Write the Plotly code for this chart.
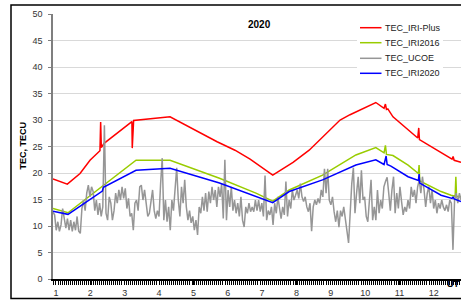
import numpy as np
import plotly.graph_objects as go

# ---------------- data ----------------
iri_plus_x = [0.913, 1.33, 1.70, 1.99, 2.28, 2.30, 2.32, 2.40, 3.21, 3.22, 3.26, 3.95, 4.32, 5.69, 6.21, 6.65,
              6.88, 7.31, 7.90, 8.37, 9.27, 9.56, 10.31, 10.55, 10.59, 10.62, 10.66, 10.81, 11.53, 11.56, 11.58,
              12.09, 12.47, 12.53, 12.56, 12.59, 12.79]
iri_plus = [18.9, 17.9, 19.9, 22.4, 24.2, 29.6, 24.8, 25.6, 29.7, 24.7, 29.9, 30.4, 30.6, 25.9, 24.3, 22.6,
            21.5, 19.6, 22.0, 24.3, 30.0, 31.0, 33.3, 32.2, 33.0, 32.0, 32.1, 30.6, 26.6, 28.5, 26.3,
            24.3, 22.8, 22.6, 23.1, 22.4, 22.0]

iri2016_x = [0.913, 1.35, 3.33, 4.32, 5.76, 6.82, 7.31, 7.79, 8.76, 9.73, 10.31, 10.55, 10.59, 10.62, 10.81,
             11.25, 11.55, 11.57, 11.59, 12.21, 12.50, 12.62, 12.64, 12.66, 12.79]
iri2016 = [13.3, 12.5, 22.4, 22.4, 19.0, 16.2, 14.7, 16.8, 19.6, 23.4, 24.8, 23.8, 25.2, 23.5, 23.3,
           21.5, 19.9, 21.5, 18.5, 16.5, 15.8, 15.6, 19.3, 15.6, 15.5]

iri2020_x = [0.913, 1.35, 2.35, 2.38, 3.33, 4.32, 5.76, 6.82, 7.31, 7.79, 8.76, 9.73, 10.31, 10.55, 10.61,
             10.64, 10.75, 11.25, 11.55, 11.57, 11.59, 12.21, 12.53, 12.56, 12.59, 12.79]
iri2020 = [12.8, 12.2, 16.6, 17.3, 20.5, 20.9, 18.1, 15.5, 14.4, 16.5, 18.7, 21.5, 22.5, 21.6, 23.2,
           21.6, 21.3, 19.3, 18.6, 19.8, 18.1, 15.8, 15.2, 15.5, 15.1, 14.6]

ucoe = [
    12.6, 12.1, 9.2, 10.8, 9.0, 10.2, 13.3, 11.8, 9.6, 11.4, 9.2, 11.1, 9.0, 10.8, 9.2, 11.8, 9.0, 8.6, 13.3, 14.9,
    12.9, 16.2, 17.7, 15.5, 17.4, 16.5, 12.9, 14.9, 12.1, 14.3, 11.8, 13.6, 29.0, 12.4, 11.1, 15.5, 14.3, 11.1,
    12.9, 16.2, 14.3, 16.8, 14.9, 17.4, 15.2, 17.1, 13.3, 15.2, 11.8, 12.4, 9.2, 14.3, 14.9, 12.9, 17.4, 17.7,
    14.9, 16.8, 14.0, 11.8, 12.4, 14.9,
    16.8, 12.9, 11.4, 12.9, 11.8, 18.0, 22.8, 11.1, 14.9, 10.8, 13.6, 9.2, 14.9, 12.9, 18.0, 21.0, 14.9, 11.8,
    17.4, 14.3, 18.7, 13.6, 11.1, 12.9, 10.6, 11.8, 9.2, 11.1, 8.3, 13.6, 12.4, 15.5, 12.9, 16.2, 12.7, 16.5,
    14.3, 17.4, 14.9, 16.8, 13.6, 17.4, 15.5, 18.0, 11.4, 22.5, 11.1, 16.8, 13.6, 17.4, 12.9, 14.9, 12.4, 14.3,
    11.8, 15.5, 11.1, 9.8, 13.6, 12.4, 14.3, 12.7, 13.6, 12.7, 14.9, 12.9,
    14.9, 12.7, 14.3, 11.8, 19.5, 11.1, 12.9, 12.1, 13.6, 10.2, 14.3, 12.4, 15.5, 12.9, 11.4, 13.6, 12.1, 18.4,
    11.8, 14.9, 13.3, 16.8, 14.9, 15.8, 16.8, 15.2, 18.0, 15.5, 14.6, 15.5, 13.6, 12.7, 14.3, 9.0, 13.6, 14.9,
    14.0, 15.2, 14.3, 16.8, 15.5, 20.8, 16.2, 20.8, 14.9, 14.0, 15.5, 12.7, 10.8, 12.9, 9.8, 12.9, 11.8, 13.6,
    11.1, 8.6, 6.8, 12.4, 18.0, 21.0, 12.4, 16.2, 19.3, 14.3,
    20.5, 14.9, 15.5, 11.8, 10.8, 14.9, 18.7, 11.1, 13.6, 11.1, 16.8, 12.4, 14.9, 13.3, 17.4, 18.4, 19.2, 16.2,
    12.9, 16.8, 19.3, 12.4, 16.2, 13.3, 17.4, 14.6, 12.1, 13.6, 12.7, 14.9, 13.3, 17.4, 15.5, 16.8, 14.3, 17.4,
    18.7, 16.2, 19.3, 16.8, 13.6, 16.2, 17.4, 14.3, 16.8, 13.3, 14.9, 12.4, 14.3, 13.3, 14.9, 13.6, 12.9, 14.0,
    12.7, 14.9, 14.3, 5.5, 14.9, 16.2, 14.3, 16.2, 14.9,
]
ucoe_x = np.linspace(0.913, 12.79, len(ucoe))

month_ticks = list(range(1, 13))
series_names = ["TEC_IRI-Plus", "TEC_IRI2016", "TEC_UCOE", "TEC_IRI2020"]
series_colors = ["#ff0000", "#99cc00", "#969696", "#0000ff"]

FONT = "Liberation Sans, Arial, sans-serif"

# ---------------- figure ----------------
fig = go.Figure()
fig.add_trace(go.Scatter(x=iri_plus_x, y=iri_plus, mode="lines", name=series_names[0],
                         line=dict(color=series_colors[0], width=1.5)))
fig.add_trace(go.Scatter(x=iri2016_x, y=iri2016, mode="lines", name=series_names[1],
                         line=dict(color=series_colors[1], width=1.5)))
fig.add_trace(go.Scatter(x=ucoe_x, y=ucoe, mode="lines", name=series_names[2],
                         line=dict(color=series_colors[2], width=1.5)))
fig.add_trace(go.Scatter(x=iri2020_x, y=iri2020, mode="lines", name=series_names[3],
                         line=dict(color=series_colors[3], width=1.5)))

L, T, B = 53, 14, 22
W, H = 461, 301
pw, ph = W - L, H - T - B


def px2paper_x(px):
    return (px - L) / pw


def py2paper_y(py):
    return (H - B - py) / ph


shapes = []
# outer chart border
shapes.append(dict(type="rect", xref="paper", yref="paper",
                   x0=px2paper_x(11), x1=px2paper_x(470), y0=py2paper_y(298.5), y1=py2paper_y(5),
                   line=dict(color="black", width=1.5), fillcolor="rgba(0,0,0,0)", layer="above"))
# legend box
shapes.append(dict(type="rect", xref="paper", yref="paper",
                   x0=px2paper_x(357), x1=px2paper_x(443), y0=py2paper_y(84), y1=py2paper_y(16),
                   line=dict(width=0), fillcolor="white", layer="above"))
annotations = []
leg_y = [27.7, 42.7, 58.3, 73.3]
for name, col, yy in zip(series_names, series_colors, leg_y):
    shapes.append(dict(type="line", xref="paper", yref="paper",
                       x0=px2paper_x(360), x1=px2paper_x(381.5), y0=py2paper_y(yy), y1=py2paper_y(yy),
                       line=dict(color=col, width=1.5), layer="above"))
    annotations.append(dict(xref="paper", yref="paper", x=px2paper_x(383), y=py2paper_y(yy),
                            text=name, showarrow=False, xanchor="left", yanchor="middle",
                            font=dict(family=FONT, size=9, color="#222")))

annotations.append(dict(xref="paper", yref="paper", x=px2paper_x(259), y=py2paper_y(24),
                        text="<b>2020</b>", showarrow=False, xanchor="center", yanchor="middle",
                        font=dict(family=FONT, size=10, color="black")))
annotations.append(dict(xref="paper", yref="paper", x=px2paper_x(22), y=py2paper_y(145.5),
                        text="<b>TEC, TECU</b>", showarrow=False, textangle=-90,
                        xanchor="center", yanchor="middle",
                        font=dict(family=FONT, size=9, color="black")))
annotations.append(dict(xref="paper", yref="paper", x=px2paper_x(453), y=py2paper_y(283.5),
                        text="<b>UT</b>", showarrow=False, xanchor="center", yanchor="middle",
                        font=dict(family=FONT, size=9, color="black")))

fig.update_layout(
    width=W, height=H,
    margin=dict(l=L, r=0, t=T, b=B, pad=0),
    paper_bgcolor="white", plot_bgcolor="white",
    showlegend=False,
    shapes=shapes, annotations=annotations,
    font=dict(family=FONT, size=9, color="#333"),
)
fig.update_xaxes(
    range=[0.913, 12.79], tickmode="array", tickvals=month_ticks, ticktext=[str(m) for m in month_ticks],
    showgrid=False, zeroline=False, showline=True, linecolor="black", linewidth=1.5,
    ticks="outside", ticklen=4, tickcolor="black", tickwidth=1,
    minor=dict(ticks="outside", dtick=0.06, tick0=1, ticklen=4, tickcolor="black", tickwidth=1, showgrid=False),
    tickfont=dict(family=FONT, size=9, color="#333"),
)
fig.update_yaxes(
    range=[0, 50], dtick=5, tick0=0,
    showgrid=True, gridcolor="#d9d9d9", gridwidth=1, zeroline=False,
    showline=True, linecolor="#7f7f7f", linewidth=1.5,
    ticks="outside", ticklen=3, tickcolor="#7f7f7f",
    tickfont=dict(family=FONT, size=9, color="#333"),
    ticklabelstandoff=4,
)

fig.write_html("out.html", config={"displayModeBar": False},
               post_script="document.body.style.margin='0';document.body.style.overflow='hidden';")
